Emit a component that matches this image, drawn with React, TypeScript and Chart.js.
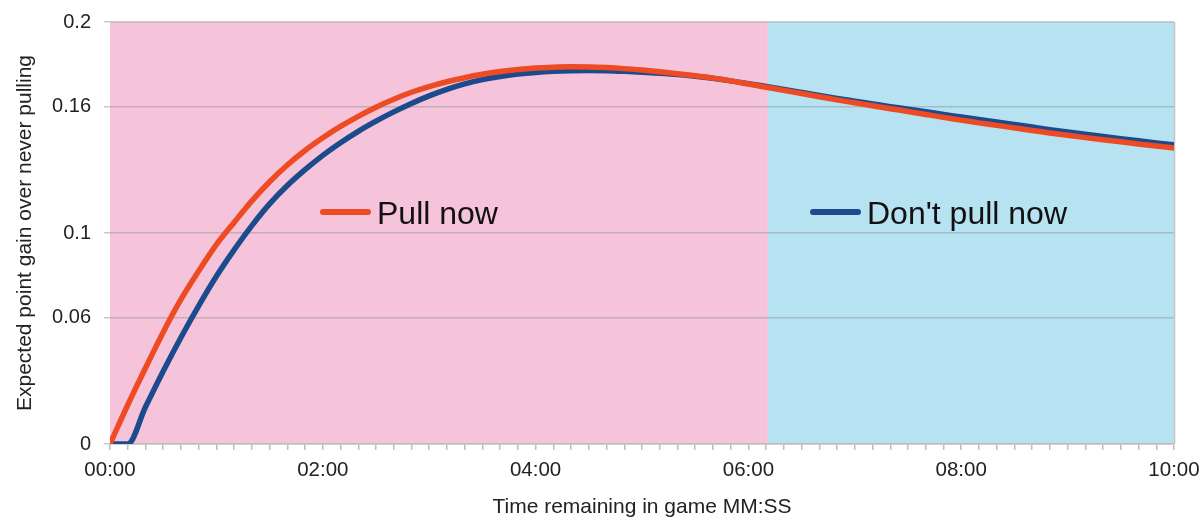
import { useEffect, useRef } from "react";
import { Chart, registerables } from "chart.js";

Chart.register(...registerables);

// Time remaining (seconds)
const timeSeconds = [
  0, 10, 20, 30, 40, 50, 60, 70, 80, 90,
  100, 110, 120, 130, 140, 150, 160, 170, 180, 190,
  200, 210, 220, 230, 240, 250, 260, 270, 280, 290,
  300, 310, 320, 330, 340, 350, 360, 370, 380, 390,
  400, 410, 420, 430, 440, 450, 460, 470, 480, 490,
  500, 510, 520, 530, 540, 550, 560, 570, 580, 590,
  600,
];

const pullNow = [
  0, 0.0185, 0.036, 0.053, 0.0685, 0.082, 0.0945, 0.105, 0.1152, 0.1243,
  0.1322, 0.1391, 0.1451, 0.1505, 0.1553, 0.1596, 0.1634, 0.1667, 0.1694, 0.1717,
  0.1736, 0.1752, 0.1765, 0.1775, 0.1782, 0.1786, 0.1788, 0.1787, 0.1784, 0.1779,
  0.1772, 0.1764, 0.1755, 0.1745, 0.1734, 0.1721, 0.1706, 0.1691, 0.1676, 0.1661,
  0.1646, 0.1631, 0.1617, 0.1603, 0.1589, 0.1576, 0.1562, 0.1548, 0.1535, 0.1522,
  0.151, 0.1498, 0.1486, 0.1474, 0.1463, 0.1452, 0.1442, 0.1432, 0.1422, 0.1412,
  0.1403,
];

const dontPullNow = [
  0, 0, 0.0175, 0.0345, 0.0505, 0.0655, 0.0795, 0.092, 0.1035, 0.1138,
  0.1225, 0.13, 0.1368, 0.1428, 0.1482, 0.153, 0.1574, 0.1614, 0.165, 0.1681,
  0.1707, 0.1727, 0.1742, 0.1753, 0.1761, 0.1766, 0.1769, 0.177, 0.1769, 0.1766,
  0.1762, 0.1757, 0.1751, 0.1743, 0.1733, 0.1721, 0.1708, 0.1694, 0.168, 0.1666,
  0.1652, 0.1638, 0.1625, 0.1612, 0.1599, 0.1587, 0.1575, 0.1562, 0.155, 0.1538,
  0.1526, 0.1514, 0.1502, 0.149, 0.1479, 0.1468, 0.1457, 0.1447, 0.1437, 0.1427,
  0.1418,
];

const yTickValues = [0, 0.06, 0.1, 0.16, 0.2];
const yTickLabels = ["0", "0.06", "0.1", "0.16", "0.2"];
const xLabelValues = [0, 120, 240, 360, 480, 600];
const xLabelTexts = ["00:00", "02:00", "04:00", "06:00", "08:00", "10:00"];
const regionEdges = [0, 371, 600];
const regionColors = ["#F5C3DA", "#B6E2F2"];
const seriesNames = ["Pull now", "Don't pull now"];
const seriesColors = ["#EE4A23", "#1C4B8D"];
const yTitle = "Expected point gain over never pulling";
const xTitle = "Time remaining in game MM:SS";

const FONT = "'Liberation Sans', Arial, sans-serif";

const backgroundPlugin = {
  id: "regionBackground",
  beforeDraw(chart: any) {
    const { ctx, chartArea, scales } = chart;
    const x = scales.x;
    ctx.save();
    for (let i = 0; i < regionColors.length; i++) {
      const x0 = x.getPixelForValue(regionEdges[i]);
      const x1 = x.getPixelForValue(regionEdges[i + 1]);
      ctx.fillStyle = regionColors[i];
      ctx.fillRect(x0, chartArea.top, x1 - x0, chartArea.bottom - chartArea.top);
    }
    ctx.restore();
  },
  beforeDatasetsDraw(chart: any) {
    const { ctx, chartArea } = chart;
    ctx.save();
    ctx.strokeStyle = "#c4c4c4";
    ctx.lineWidth = 1.5;
    ctx.beginPath();
    ctx.moveTo(chartArea.right + 0.5, chartArea.top);
    ctx.lineTo(chartArea.right + 0.5, chartArea.bottom);
    ctx.stroke();
    ctx.restore();
  },
};

const legendPlugin = {
  id: "insideLegend",
  afterDatasetsDraw(chart: any) {
    const { ctx, chartArea } = chart;
    const spots = [
      { lx: 213, tx: 267 },
      { lx: 703, tx: 757 },
    ];
    ctx.save();
    seriesNames.forEach((name, i) => {
      const s = spots[i];
      const y = chartArea.top + 190;
      ctx.strokeStyle = seriesColors[i];
      ctx.lineWidth = 6;
      ctx.lineCap = "round";
      ctx.beginPath();
      ctx.moveTo(chartArea.left + s.lx, y);
      ctx.lineTo(chartArea.left + s.lx + 45, y);
      ctx.stroke();
      ctx.fillStyle = "#111";
      ctx.font = `32px ${FONT}`;
      ctx.textBaseline = "alphabetic";
      ctx.textAlign = "left";
      ctx.fillText(name, chartArea.left + s.tx, chartArea.top + 202);
    });
    ctx.restore();
  },
};

export default function App() {
  const canvasRef = useRef<HTMLCanvasElement>(null);

  useEffect(() => {
    if (!canvasRef.current) return;
    const lineCommon = {
      borderWidth: 5.5,
      pointRadius: 0,
      cubicInterpolationMode: "monotone",
      borderJoinStyle: "round",
      borderCapStyle: "round",
    };
    const chart = new Chart(canvasRef.current, {
      type: "line",
      data: {
        datasets: [
          {
            ...lineCommon,
            label: seriesNames[0],
            data: timeSeconds.map((t, i) => ({ x: t, y: pullNow[i] })),
            borderColor: seriesColors[0],
            backgroundColor: seriesColors[0],
            order: 0,
          },
          {
            ...lineCommon,
            label: seriesNames[1],
            data: timeSeconds.map((t, i) => ({ x: t, y: dontPullNow[i] })),
            borderColor: seriesColors[1],
            backgroundColor: seriesColors[1],
            order: 1,
          },
        ],
      },
      options: {
        animation: false,
        responsive: false,
        devicePixelRatio: 1,
        layout: { padding: { top: 22, right: 29, left: 0, bottom: 0 } },
        plugins: {
          legend: { display: false },
          tooltip: { enabled: false },
        },
        scales: {
          x: {
            type: "linear",
            min: 0,
            max: 600,
            afterFit(scale: any) {
              scale.height = 74;
              scale.paddingLeft = 0;
              scale.paddingRight = 0;
            },
            ticks: {
              stepSize: 10,
              autoSkip: false,
              maxRotation: 0,
              padding: 8,
              color: "#222",
              font: { family: FONT, size: 20.5 },
              callback(value: any) {
                const i = xLabelValues.indexOf(Number(value));
                return i >= 0 ? xLabelTexts[i] : "";
              },
            },
            grid: {
              drawOnChartArea: false,
              drawTicks: true,
              tickLength: 6,
              color: "#bdbdbd",
              lineWidth: 1.5,
            },
            border: { display: true, color: "#bdbdbd", width: 1.5 },
            title: {
              display: true,
              text: xTitle,
              color: "#222",
              font: { family: FONT, size: 21, lineHeight: 1.0 },
              padding: { top: 0, bottom: 0 },
            },
          },
          y: {
            type: "linear",
            min: 0,
            max: 0.2,
            afterFit(scale: any) {
              scale.width = 110;
              scale.paddingTop = 0;
              scale.paddingBottom = 0;
            },
            afterBuildTicks(scale: any) {
              scale.ticks = yTickValues.map((v) => ({ value: v }));
            },
            ticks: {
              padding: 13,
              color: "#222",
              font: { family: FONT, size: 20 },
              callback(value: any) {
                const i = yTickValues.findIndex((v) => Math.abs(v - Number(value)) < 1e-9);
                return i >= 0 ? yTickLabels[i] : "";
              },
            },
            grid: {
              drawTicks: true,
              tickLength: 6,
              color: "rgba(150,150,150,0.5)",
              lineWidth: 1.5,
            },
            border: { display: false },
            title: {
              display: true,
              text: yTitle,
              color: "#222",
              font: { family: FONT, size: 21 },
              padding: { top: 13, bottom: 0 },
            },
          },
        },
      },
      plugins: [backgroundPlugin, legendPlugin],
    } as any);
    return () => chart.destroy();
  }, []);

  return (
    <div style={{ position: "fixed", left: 0, top: 0, width: 1203, height: 518, background: "#fff" }}>
      <canvas ref={canvasRef} width={1203} height={518} style={{ display: "block", width: 1203, height: 518 }} />
    </div>
  );
}
